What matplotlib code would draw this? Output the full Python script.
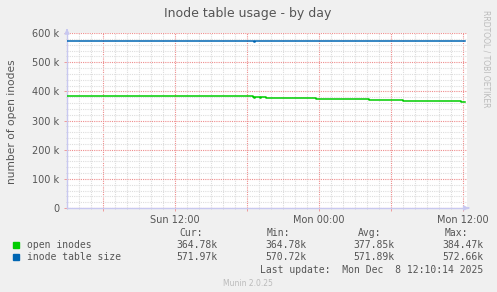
import matplotlib
matplotlib.use('Agg')
import matplotlib.pyplot as plt
from matplotlib.ticker import MultipleLocator, FixedLocator, FuncFormatter

# time axis in hours since Sun 00:00
x_min, x_max = 3.0, 36.33
tick_pos = [6, 12, 18, 24, 30, 36]
tick_labels = ['', 'Sun 12:00', '', 'Mon 00:00', '', 'Mon 12:00']

# open inodes (step changes)
open_t = [3.0, 18.5, 18.6, 18.7, 19.1, 19.2, 19.6, 23.75, 28.2, 31.0, 35.8, 36.17]
open_v = [384.47e3, 379.0e3, 376.5e3, 379.0e3, 377.0e3, 379.0e3, 377.0e3,
          373.5e3, 370.5e3, 367.5e3, 364.78e3, 364.78e3]

# inode table size
size_t = [3.0, 18.55, 18.6, 18.7, 36.17]
size_v = [572.66e3, 572.2e3, 570.72e3, 571.97e3, 571.97e3]

legend_names = ['open inodes', 'inode table size']
legend_colors = ['#00CC00', '#0066B3']
cur = ['364.78k', '571.97k']
mins = ['364.78k', '570.72k']
avgs = ['377.85k', '571.89k']
maxs = ['384.47k', '572.66k']

W, H = 497, 292
fig = plt.figure(figsize=(W / 100, H / 100), dpi=100)
fig.patch.set_facecolor('#F0F0F0')
ax = fig.add_axes([67 / W, (H - 208) / H, 400 / W, (208 - 33) / H])
ax.set_facecolor('white')

ax.step(open_t, open_v, where='post', color=legend_colors[0], lw=1.1, zorder=3)
ax.step(size_t, size_v, where='post', color=legend_colors[1], lw=1.1, zorder=3)

ax.set_xlim(x_min, x_max)
ax.set_ylim(0, 600e3)
ax.set_xticks(tick_pos, tick_labels)
ax.xaxis.set_minor_locator(FixedLocator([h for h in range(3, 37) if h % 6]))
ax.yaxis.set_major_locator(MultipleLocator(100e3))
ax.yaxis.set_minor_locator(FixedLocator([v * 1e3 for v in range(20, 600, 20) if v % 100]))

ax.grid(which='minor', color='#DDDDDD', lw=0.8, ls=(0, (1, 1)))
ax.grid(which='major', color='#EE8C8C', lw=0.8, ls=(0, (1, 1)))
ax.set_axisbelow(True)

ax.yaxis.set_major_formatter(FuncFormatter(lambda v, p: '0' if v == 0 else '%d k' % (v / 1000)))
ax.tick_params(which='both', labelsize=7, colors='#555555', length=2, width=0.6)
ax.tick_params(which='major', color='#EE8C8C')
ax.tick_params(which='minor', length=1, color='#CCCCCC')
ax.tick_params(axis='x', pad=3)
for sp in ['top', 'right']:
    ax.spines[sp].set_visible(False)
for sp in ['left', 'bottom']:
    ax.spines[sp].set_color('#C8C8F0')
    ax.spines[sp].set_linewidth(1)

# axis arrows
ax.annotate('', xy=(x_max + 0.4, 0), xytext=(x_max - 0.1, 0), annotation_clip=False,
            arrowprops=dict(arrowstyle='-|>', color='#C8C8F0', lw=1, mutation_scale=7))
ax.annotate('', xy=(x_min, 615e3), xytext=(x_min, 598e3), annotation_clip=False,
            arrowprops=dict(arrowstyle='-|>', color='#C8C8F0', lw=1, mutation_scale=7))

fig.text(248 / W, 1 - 13 / H, 'Inode table usage - by day', ha='center', va='center',
         fontsize=9, color='#555555')
fig.text(12 / W, 1 - 122 / H, 'number of open inodes', rotation=90, ha='center',
         va='center', fontsize=7.7, color='#555555')
fig.text(486 / W, 1 - 10 / H, 'RRDTOOL / TOBI OETIKER', rotation=270, ha='center',
         va='top', fontsize=5.5, color='#BBBBBB')

mono = dict(family='DejaVu Sans Mono', fontsize=7, color='#555555', va='center')
cols = [(217, cur), (306, mins), (394, avgs), (483, maxs)]
headers = [(203, 'Cur:'), (290, 'Min:'), (381, 'Avg:'), (468, 'Max:')]
for hx, label in headers:
    fig.text(hx / W, 1 - 233 / H, label, ha='right', **mono)
for i, name in enumerate(legend_names):
    y = 245 + 12 * i
    fig.patches.append(plt.Rectangle((13 / W, 1 - (y + 3) / H), 6 / W, 6 / H,
                                     transform=fig.transFigure, color=legend_colors[i]))
    fig.text(27 / W, 1 - y / H, name, ha='left', **mono)
    for cx, vals in cols:
        fig.text(cx / W, 1 - y / H, vals[i], ha='right', **mono)
fig.text(483 / W, 1 - 270 / H, 'Last update:  Mon Dec  8 12:10:14 2025', ha='right', **mono)
fig.text(248 / W, 1 - 283 / H, 'Munin 2.0.25', ha='center', va='center',
         fontsize=5.5, color='#BBBBBB')

fig.savefig('out.png', dpi=100, facecolor=fig.get_facecolor())
